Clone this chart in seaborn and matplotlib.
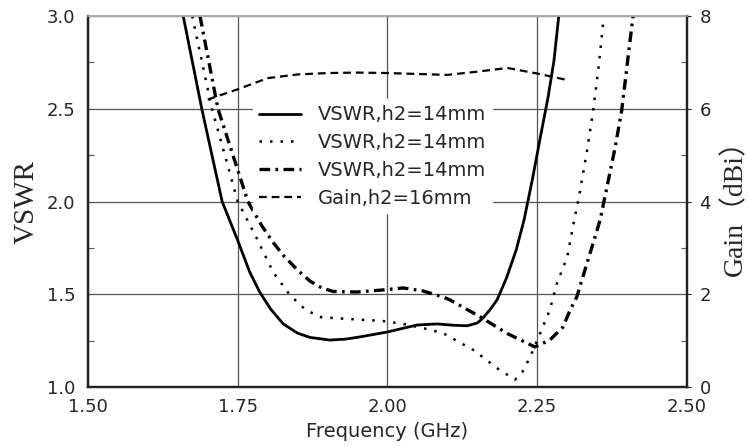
import matplotlib
matplotlib.use("Agg")
import matplotlib.pyplot as plt
from matplotlib.ticker import MultipleLocator
import seaborn as sns

# frequency (GHz) / VSWR
f_solid = [1.659, 1.690, 1.724, 1.750, 1.770, 1.787, 1.805, 1.826, 1.850, 1.871, 1.904, 1.930,
           1.954, 1.999, 2.049, 2.083, 2.110, 2.133, 2.150, 2.159, 2.172, 2.183, 2.199, 2.215,
           2.228, 2.242, 2.256, 2.268, 2.278, 2.286]
vswr_solid = [3.00, 2.50, 2.00, 1.79, 1.62, 1.51, 1.42, 1.34, 1.29, 1.267, 1.253, 1.258,
              1.27, 1.296, 1.334, 1.34, 1.333, 1.33, 1.345, 1.37, 1.42, 1.47, 1.59, 1.74,
              1.90, 2.12, 2.36, 2.56, 2.76, 3.00]

f_dot = [1.674, 1.707, 1.750, 1.782, 1.800, 1.810, 1.837, 1.862, 1.887, 1.937, 1.992, 2.026,
         2.059, 2.093, 2.143, 2.188, 2.213, 2.225, 2.238, 2.255, 2.271, 2.283, 2.300, 2.310,
         2.320, 2.333, 2.343, 2.353, 2.360]
vswr_dot = [3.00, 2.50, 2.00, 1.80, 1.68, 1.615, 1.496, 1.42, 1.377, 1.366, 1.356, 1.34,
            1.318, 1.29, 1.20, 1.09, 1.04, 1.08, 1.16, 1.29, 1.415, 1.56, 1.70, 1.87,
            2.03, 2.27, 2.48, 2.74, 2.96]

f_dashdot = [1.687, 1.717, 1.767, 1.790, 1.809, 1.826, 1.850, 1.871, 1.890, 1.909, 1.949, 1.992,
             2.026, 2.059, 2.093, 2.104, 2.154, 2.199, 2.246, 2.271, 2.293, 2.305, 2.316, 2.355,
             2.380, 2.391, 2.401, 2.410]
vswr_dashdot = [3.00, 2.50, 2.00, 1.87, 1.78, 1.71, 1.63, 1.57, 1.535, 1.515, 1.512, 1.523,
                1.534, 1.518, 1.485, 1.47, 1.38, 1.29, 1.216, 1.253, 1.323, 1.415, 1.485, 1.90,
                2.29, 2.49, 2.76, 3.00]

# gain (dBi)
f_gain = [1.70, 1.75, 1.80, 1.85, 1.90, 1.95, 2.00, 2.05, 2.10, 2.15, 2.20, 2.25, 2.30]
gain = [6.20, 6.42, 6.66, 6.74, 6.77, 6.78, 6.77, 6.75, 6.73, 6.80, 6.88, 6.76, 6.62]

labels = ["VSWR,h2=14mm", "VSWR,h2=14mm", "VSWR,h2=14mm", "Gain,h2=16mm"]

sns.set_style("white")
plt.rcParams["font.family"] = ["DejaVu Sans"]

fig = plt.figure(figsize=(7.48, 4.46), dpi=100)
ax = fig.add_axes([0.1176, 0.1323, 0.8008, 0.8318])
ax2 = ax.twinx()

line_kw = dict(color="black", sort=False, solid_joinstyle="round", dash_joinstyle="round")
sns.lineplot(x=f_solid, y=vswr_solid, ax=ax, lw=2.0, label=labels[0], **line_kw)
sns.lineplot(x=f_dot, y=vswr_dot, ax=ax, lw=1.8, label=labels[1], **line_kw)
ax.lines[-1].set_dashes((1, 3.2))
sns.lineplot(x=f_dashdot, y=vswr_dashdot, ax=ax, lw=2.4, label=labels[2], **line_kw)
ax.lines[-1].set_dashes((3.2, 1.6, 0.8, 1.6))
sns.lineplot(x=f_gain, y=gain, ax=ax2, lw=1.6, label=labels[3], **line_kw)
ax2.lines[-1].set_dashes((3.5, 2.2))

ax.set_xlim(1.5, 2.5)
ax.set_ylim(1.0, 3.0)
ax2.set_ylim(0, 8)

ax.xaxis.set_major_locator(MultipleLocator(0.25))
ax.xaxis.set_minor_locator(MultipleLocator(0.125))
ax.yaxis.set_major_locator(MultipleLocator(0.5))
ax.yaxis.set_minor_locator(MultipleLocator(0.25))
ax2.yaxis.set_major_locator(MultipleLocator(2))
ax2.yaxis.set_minor_locator(MultipleLocator(1))

ax.grid(True, which="major", color="#555555", lw=0.9)
ax.set_xticklabels([f"{v:.2f}" for v in ax.get_xticks()])
ax.set_yticklabels([f"{v:.1f}" for v in ax.get_yticks()])

ax.tick_params(axis="both", which="major", length=0, labelsize=13, pad=9)
ax.tick_params(axis="both", which="minor", length=4, direction="in", width=0.8, color="#555555")
ax.tick_params(axis="x", which="major", pad=8)
ax2.tick_params(axis="y", which="major", length=3, direction="out", labelsize=13, pad=6)
ax2.tick_params(axis="y", which="minor", length=4, direction="in", width=0.8, color="#555555")

for a in (ax, ax2):
    for side in ("left", "right", "bottom"):
        a.spines[side].set_color("#222222")
        a.spines[side].set_linewidth(1.6)
    a.spines["top"].set_color("#aaaaaa")
    a.spines["top"].set_linewidth(1.2)

ax.set_xlabel("Frequency (GHz)", fontsize=14, labelpad=4)
ax.set_ylabel("VSWR", fontsize=21, family=["Liberation Serif", "DejaVu Serif"], labelpad=5)
ax2.set_ylabel("Gain（dBi）", fontsize=20, rotation=90,
               family=["Liberation Serif", "Noto Sans CJK SC"], labelpad=8)

ax.get_legend().remove()
h1, l1 = ax.get_legend_handles_labels()
h2, l2 = ax2.get_legend_handles_labels()
leg = ax2.legend(h1 + h2, l1 + l2, loc="upper left", bbox_to_anchor=(0.275, 0.775),
                 fontsize=14, frameon=True, fancybox=False, edgecolor="white",
                 facecolor="white", framealpha=1, handlelength=2.2, handletextpad=0.85,
                 labelspacing=0.45, borderpad=0.3, borderaxespad=0)

fig.savefig("out.png", dpi=100)
